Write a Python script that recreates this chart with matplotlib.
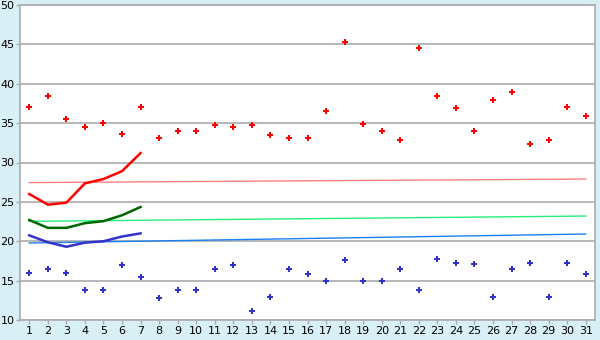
import matplotlib
matplotlib.use("Agg")
import matplotlib.pyplot as plt

days = list(range(1, 32))
highs = [37.0, 38.5, 35.5, 34.5, 35.0, 33.6, 37.0, 33.1, 34.0, 34.0,
         34.7, 34.5, 34.7, 33.45, 33.1, 33.1, 36.5, 45.3, 34.85, 34.0,
         32.8, 44.6, 38.5, 36.9, 34.0, 38.0, 39.0, 32.4, 32.9, 37.1, 35.9]
lows = [16.0, 16.5, 16.0, 13.8, 13.8, 17.0, 15.5, 12.8, 13.8, 13.8,
        16.5, 17.0, 11.1, 12.9, 16.5, 15.8, 15.0, 17.6, 15.0, 15.0,
        16.5, 13.8, 17.8, 17.2, 17.1, 12.9, 16.5, 17.2, 12.9, 17.2, 15.8]

week_days = list(range(1, 8))
week_high = [26.0, 24.65, 24.9, 27.35, 27.9, 28.9, 31.2]
week_mean = [22.7, 21.7, 21.7, 22.3, 22.55, 23.3, 24.35]
week_low = [20.75, 19.87, 19.3, 19.82, 20.0, 20.6, 21.0]

trend_x = [1, 31]
trend_high = [27.45, 27.9]
trend_mean = [22.53, 23.2]
trend_low = [19.78, 20.92]

fig = plt.figure(figsize=(6, 3.4), dpi=100, facecolor="#D9EFF6")
ax = fig.add_axes([20/600, 20/340, 575/600, 315/340])
ax.set_facecolor("white")

ax.set_xlim(0.5, 31.5)
ax.set_ylim(10, 50)
ax.set_yticks(range(10, 51, 5))
ax.set_xticks(days)
ax.yaxis.grid(True, color="#ABABAB", linewidth=1.2)
ax.set_axisbelow(True)

# trend lines over the month
ax.plot(trend_x, trend_high, color="#FF8080", linewidth=1.0)
ax.plot(trend_x, trend_mean, color="#22F07A", linewidth=1.0)
ax.plot(trend_x, trend_low, color="#1A7FF0", linewidth=1.0)

# first week lines
ax.plot(week_days, week_high, color="#FF0000", linewidth=1.8)
ax.plot(week_days, week_mean, color="#006600", linewidth=1.8)
ax.plot(week_days, week_low, color="#3333CC", linewidth=1.8)

# daily values
ax.plot(days, highs, linestyle="none", marker="P", markersize=4.2,
        color="#FF0000", markeredgewidth=0)
ax.plot(days, lows, linestyle="none", marker="P", markersize=4.2,
        color="#3333CC", markeredgewidth=0)

for s in ax.spines.values():
    s.set_color("#ABABAB")
    s.set_linewidth(1.2)

ax.tick_params(axis="both", colors="#ABABAB", labelcolor="black",
               labelsize=8, length=3, width=1, pad=1)

fig.savefig("out.png", dpi=100, facecolor=fig.get_facecolor())
